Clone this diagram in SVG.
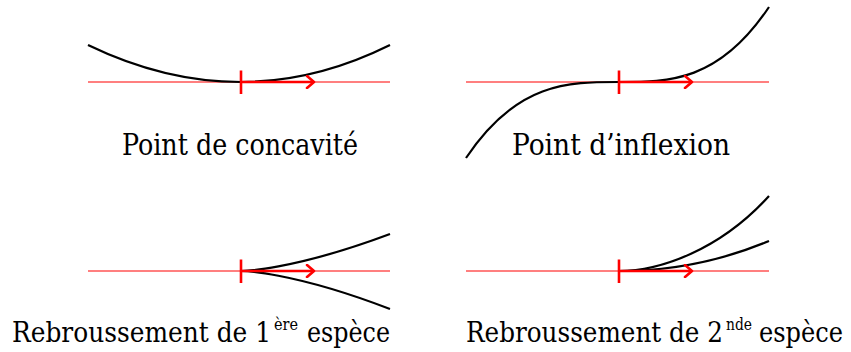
<svg xmlns="http://www.w3.org/2000/svg" width="851" height="352" viewBox="0 0 851 352">
<style>
.axis{stroke:#ff0000;stroke-width:1.2;fill:none}
.tick{stroke:#ff0000;stroke-width:2.6;fill:none}
.vec{stroke:#ff0000;stroke-width:2.6;fill:none;marker-end:url(#ah)}
.curve{stroke:#000;stroke-width:2.2;fill:none}
.lbl{font-family:'DejaVu Serif Condensed','DejaVu Serif',serif;font-stretch:condensed;font-size:29px;fill:#000}
.lbl2{font-family:'DejaVu Serif Condensed','DejaVu Serif',serif;font-stretch:condensed;font-size:27px;fill:#000}
.sup{font-family:'DejaVu Serif Condensed','DejaVu Serif',serif;font-stretch:condensed;font-size:17px;fill:#000}
</style>
<defs>
<marker id="ah" markerWidth="12" markerHeight="14" refX="9" refY="7" orient="auto" markerUnits="userSpaceOnUse">
<path d="M2,1 L9,7 L2,13" stroke="#ff0000" stroke-width="2.6" fill="none" stroke-linecap="round" stroke-linejoin="round"/>
</marker>
</defs>
<g id="concavite">
<line class="axis" x1="88" y1="82" x2="390" y2="82"/>
<path class="curve" d="M88,45 Q164.5,82 241,82 Q315.5,82 390,45"/>
<line class="tick" x1="241" y1="70.5" x2="241" y2="94"/>
<line class="vec" x1="241" y1="82" x2="314" y2="82"/>
<text class="lbl" x="122" y="155" textLength="236" lengthAdjust="spacingAndGlyphs">Point de concavité</text>
</g>
<g id="inflexion">
<line class="axis" x1="466" y1="82" x2="769" y2="82"/>
<path class="curve" d="M466,158 C517,82 568,82 619,82 C669,82 719,82 769,7"/>
<line class="tick" x1="619" y1="70.5" x2="619" y2="94"/>
<line class="vec" x1="619" y1="82" x2="692" y2="82"/>
<text class="lbl" x="512" y="155" textLength="218" lengthAdjust="spacingAndGlyphs">Point d’inflexion</text>
</g>
<g id="rebroussement1">
<line class="axis" x1="88" y1="271" x2="390" y2="271"/>
<path class="curve" d="M241,271 C241,271 291,271 390,234"/>
<path class="curve" d="M241,271 C241,271 291,271 390,309"/>
<line class="tick" x1="241" y1="259.5" x2="241" y2="283"/>
<line class="vec" x1="241" y1="271" x2="314" y2="271"/>
<text class="lbl2" x="12" y="342" textLength="259" lengthAdjust="spacingAndGlyphs">Rebroussement de 1</text>
<text class="sup" x="274" y="330" textLength="24" lengthAdjust="spacingAndGlyphs">ère</text>
<text class="lbl2" x="307" y="342" textLength="83" lengthAdjust="spacingAndGlyphs">espèce</text>
</g>
<g id="rebroussement2">
<line class="axis" x1="466" y1="271" x2="769" y2="271"/>
<path class="curve" d="M619,271 C660,271 720,250 769,196"/>
<path class="curve" d="M619,271 C669,271 719,262 769,241"/>
<line class="tick" x1="619" y1="259.5" x2="619" y2="283"/>
<line class="vec" x1="619" y1="271" x2="692" y2="271"/>
<text class="lbl2" x="466" y="342" textLength="257" lengthAdjust="spacingAndGlyphs">Rebroussement de 2</text>
<text class="sup" x="726" y="330" textLength="26" lengthAdjust="spacingAndGlyphs">nde</text>
<text class="lbl2" x="759" y="342" textLength="84" lengthAdjust="spacingAndGlyphs">espèce</text>
</g>
</svg>
